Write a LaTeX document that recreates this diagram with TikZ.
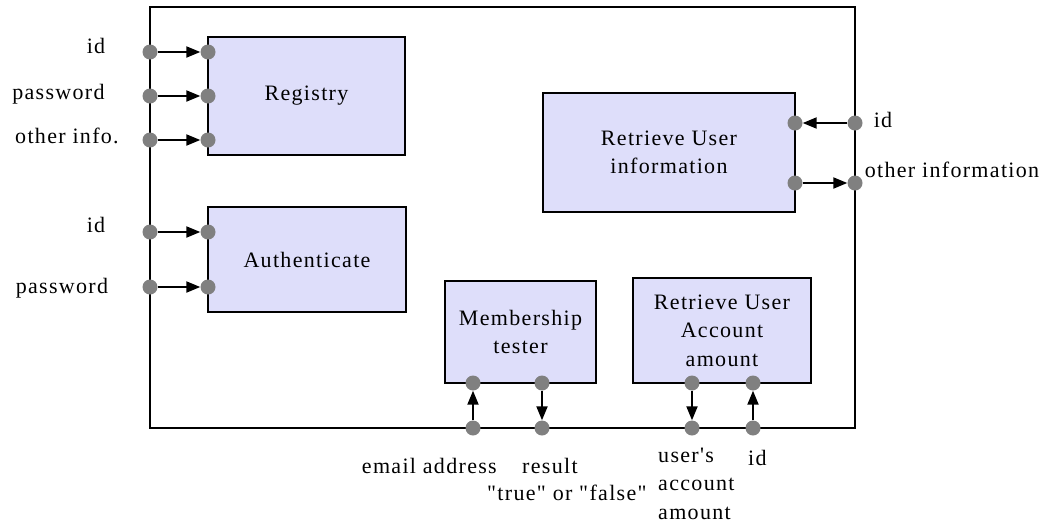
\documentclass[tikz,border=0pt]{standalone}
\usepackage{fontspec}
\setmainfont{Liberation Serif}[LetterSpace=6, Ligatures=TeXOff]
\usetikzlibrary{arrows.meta}
\definecolor{boxfill}{RGB}{222,222,250}
\definecolor{portgray}{RGB}{128,128,128}
\tikzset{
  frame/.style={draw=black, line width=2pt},
  modbox/.style={draw=black, line width=2pt, fill=boxfill, align=center, inner sep=0pt},
  port/.style={circle, fill=portgray, minimum size=15pt, inner sep=0pt},
  flow/.style={line width=2pt, -{Triangle[length=14pt,width=11pt]}},
  lbl/.style={inner sep=0pt, align=center},
}
\begin{document}
\begin{tikzpicture}[x=1pt, y=-1pt, font=\fontsize{22}{28.5}\selectfont]
\useasboundingbox (0,0) rectangle (1049,523);
% outer frame
\draw[frame] (150,7) rectangle (855,428);
% boxes
\node[modbox, minimum width=197pt, minimum height=118pt] (reg) at (306.5,96) {Registry};
\node[modbox, minimum width=198pt, minimum height=105pt] (auth) at (307,259.5) {Authenticate};
\node[modbox, minimum width=252pt, minimum height=119pt] (rui) at (669,152.5) {Retrieve User\\information};
\node[modbox, minimum width=151pt, minimum height=102pt] (mem) at (520.5,332) {Membership\\tester};
\node[modbox, minimum width=178pt, minimum height=105pt] (acc) at (722,330.5) {Retrieve User\\Account\\amount};
% ports: left
\node[port] (o1) at (150,52) {};
\node[port] (o2) at (150,96) {};
\node[port] (o3) at (150,140) {};
\node[port] (o4) at (150,232) {};
\node[port] (o5) at (150,287) {};
\node[port] (i1) at (208,52) {};
\node[port] (i2) at (208,96) {};
\node[port] (i3) at (208,140) {};
\node[port] (i4) at (208,232) {};
\node[port] (i5) at (208,287) {};
% ports: right
\node[port] (r1) at (795,123) {};
\node[port] (r2) at (795,183) {};
\node[port] (ro1) at (855,123) {};
\node[port] (ro2) at (855,183) {};
% ports: bottom
\node[port] (m1) at (473,383) {};
\node[port] (m2) at (542,383) {};
\node[port] (mo1) at (473,428) {};
\node[port] (mo2) at (542,428) {};
\node[port] (a1) at (692,383) {};
\node[port] (a2) at (753,383) {};
\node[port] (ao1) at (692,428) {};
\node[port] (ao2) at (753,428) {};
% connectors
\draw[flow] (o1) -- (i1);
\draw[flow] (o2) -- (i2);
\draw[flow] (o3) -- (i3);
\draw[flow] (o4) -- (i4);
\draw[flow] (o5) -- (i5);
\draw[flow] (ro1) -- (r1);
\draw[flow] (r2) -- (ro2);
\draw[flow] (mo1) -- (m1);
\draw[flow] (m2) -- (mo2);
\draw[flow] (a1) -- (ao1);
\draw[flow] (ao2) -- (a2);
% labels
\node[lbl, anchor=base] (l1) at (96,53) {id};
\node[lbl, anchor=base] (l2) at (58.5,99) {password};
\node[lbl, anchor=base] (l3) at (67,143) {other info.};
\node[lbl, anchor=base] (l4) at (96,232) {id};
\node[lbl, anchor=base] (l5) at (62,293) {password};
\node[lbl, anchor=base] (l6) at (883,127) {id};
\node[lbl, anchor=base] (l7) at (952,177) {other information};
\node[lbl, anchor=base east] (l8) at (497,473) {email address};
\node[lbl, anchor=base west] (l9) at (522,473) {result};
\node[lbl, anchor=base west] (l10) at (487,500) {"true" or "false"};
\node[lbl, anchor=base west] (l11) at (658,462) {user's};
\node[lbl, anchor=base west] (l12) at (658,490) {account};
\node[lbl, anchor=base west] (l13) at (658,519) {amount};
\node[lbl, anchor=base west] (l14) at (748,465) {id};
\end{tikzpicture}
\end{document}
